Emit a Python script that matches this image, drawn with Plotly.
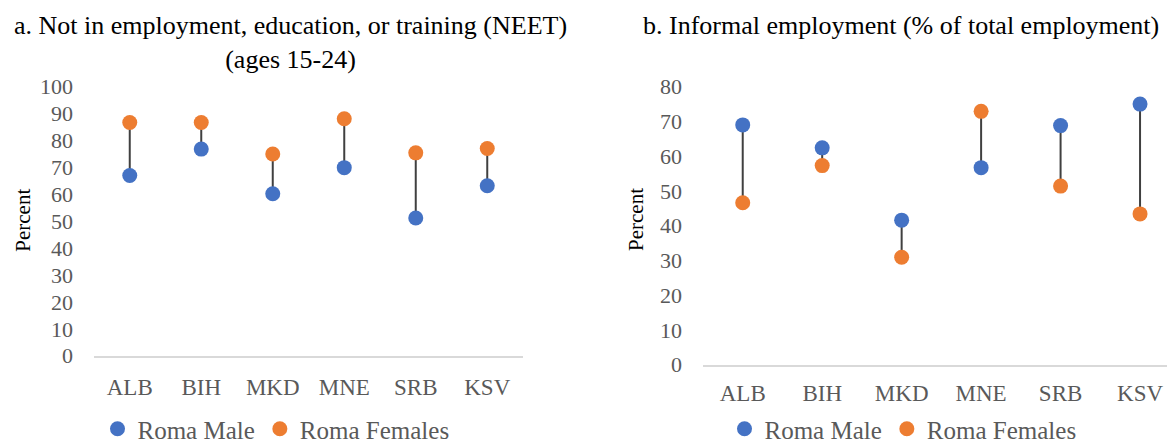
import plotly.graph_objects as go

categories = ["ALB", "BIH", "MKD", "MNE", "SRB", "KSV"]
neet_male = [67.0, 76.8, 60.2, 69.9, 51.2, 63.2]
neet_female = [86.7, 86.7, 75.0, 88.1, 75.4, 77.0]
informal_male = [69.0, 62.4, 41.6, 56.7, 68.8, 75.0]
informal_female = [46.6, 57.3, 30.9, 72.9, 51.4, 43.4]

BLUE = "#4472C4"
ORANGE = "#ED7D31"
LINE = "#404040"
FONT = "Liberation Serif"
GRAY = "#595959"

# page body has an 8px default margin; size the figure to fit the window
OFF = 8
W, H = 1175 - OFF, 447 - OFF


def px(x):
    return (x - OFF) / W


def py(y):
    return 1 - (y - OFF) / H


fig = go.Figure()


def add_panel(male, female, xa, ya, legend_name):
    lx, ly = [], []
    for c, m, f in zip(categories, male, female):
        lx += [c, c, None]
        ly += [m, f, None]
    fig.add_trace(go.Scatter(x=lx, y=ly, mode="lines", line=dict(color=LINE, width=2),
                             showlegend=False, hoverinfo="skip", xaxis=xa, yaxis=ya))
    fig.add_trace(go.Scatter(x=categories, y=male, mode="markers", name="Roma Male",
                             marker=dict(color=BLUE, size=15), xaxis=xa, yaxis=ya,
                             legend=legend_name, cliponaxis=False))
    fig.add_trace(go.Scatter(x=categories, y=female, mode="markers", name="Roma Females",
                             marker=dict(color=ORANGE, size=15), xaxis=xa, yaxis=ya,
                             legend=legend_name, cliponaxis=False))


add_panel(neet_male, neet_female, "x", "y", "legend")
add_panel(informal_male, informal_female, "x2", "y2", "legend2")

xcommon = dict(type="category", showgrid=False, zeroline=False, showline=True,
               linecolor="#D9D9D9", linewidth=2, ticks="", automargin=False,
               tickfont=dict(family=FONT, size=23, color=GRAY))
ycommon = dict(showgrid=False, zeroline=False, showline=False, ticks="", dtick=10,
               automargin=False,
               tickfont=dict(family=FONT, size=22, color=GRAY), ticklabelstandoff=20)

legend_common = dict(orientation="h", xanchor="center", yanchor="middle",
                     font=dict(family=FONT, size=25, color=GRAY), itemwidth=30,
                     bgcolor="rgba(0,0,0,0)")

fig.update_layout(
    width=W, height=H,
    margin=dict(l=0, r=0, t=0, b=0, autoexpand=False),
    paper_bgcolor="white", plot_bgcolor="white",
    font=dict(family=FONT, color="black"),
    xaxis=dict(domain=[px(94), px(523)], range=[-0.5, 5.5], anchor="y",
               ticklabelstandoff=10, **xcommon),
    yaxis=dict(domain=[py(355.7), py(86.7)], range=[0, 100], anchor="x", **ycommon),
    xaxis2=dict(domain=[px(703), 1.0], range=[-0.5, 5.44], anchor="y2",
                ticklabelstandoff=7, **xcommon),
    yaxis2=dict(domain=[py(364.7), py(86.7)], range=[0, 80], anchor="x2", **ycommon),
    legend=dict(x=px(276), y=py(429), **legend_common),
    legend2=dict(x=px(903), y=py(429), **legend_common),
    annotations=[
        dict(text="a. Not in employment, education, or training (NEET)<br>(ages 15-24)",
             x=px(290), y=py(9), xref="paper", yref="paper", xanchor="center", yanchor="top",
             showarrow=False, font=dict(family=FONT, size=26, color="black")),
        dict(text="b. Informal employment (% of total employment)",
             x=px(901), y=py(9), xref="paper", yref="paper", xanchor="center", yanchor="top",
             showarrow=False, font=dict(family=FONT, size=26, color="black")),
        dict(text="Percent", x=px(22.7), y=py(220), xref="paper", yref="paper",
             xanchor="center", yanchor="middle", textangle=-90, showarrow=False,
             font=dict(family=FONT, size=21, color="black")),
        dict(text="Percent", x=px(636), y=py(220), xref="paper", yref="paper",
             xanchor="center", yanchor="middle", textangle=-90, showarrow=False,
             font=dict(family=FONT, size=21, color="black")),
    ],
)

fig.write_html("out.html")
